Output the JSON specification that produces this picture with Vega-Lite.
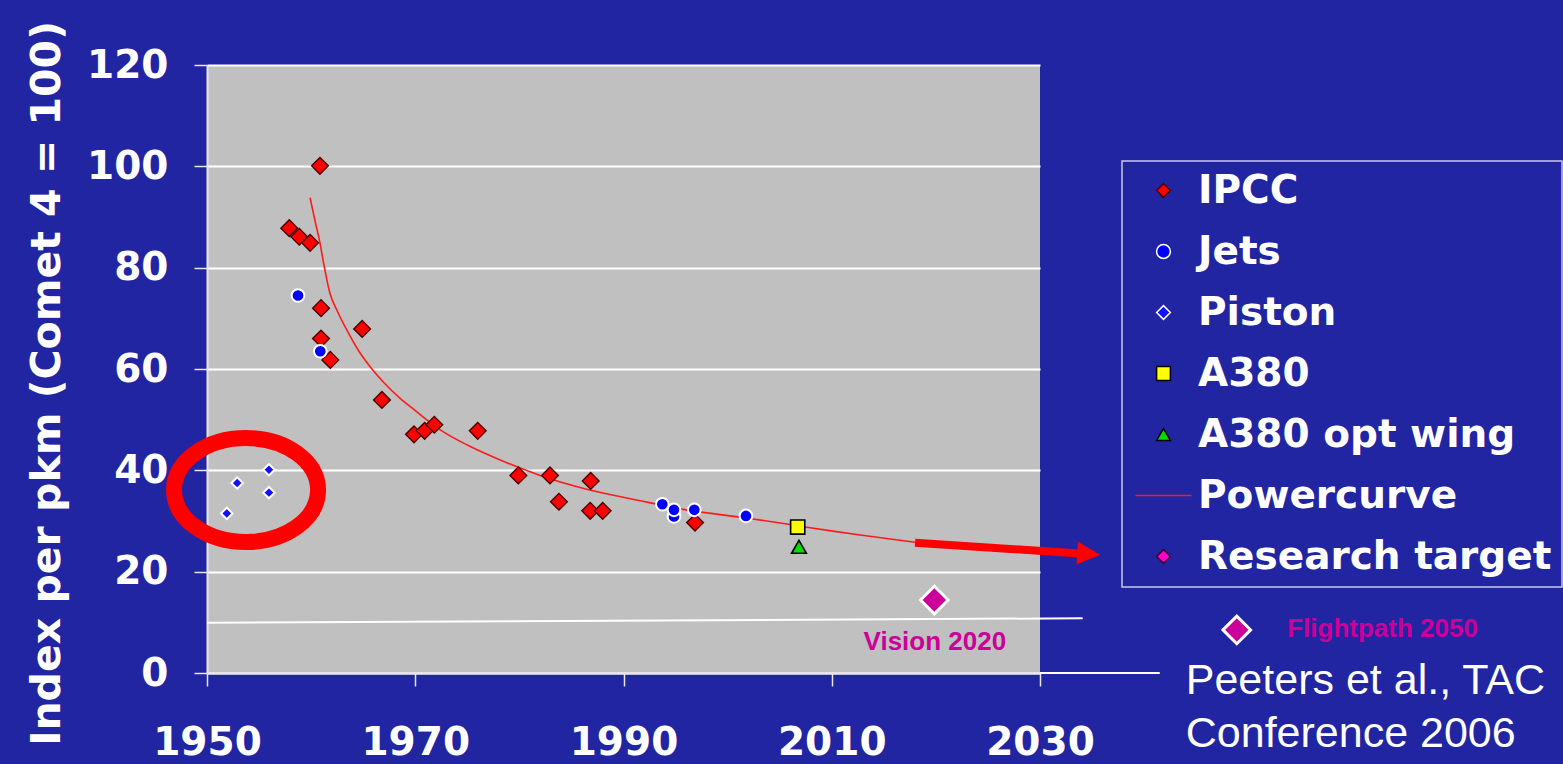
{
  "$schema": "https://vega.github.io/schema/vega-lite/v6.json",
  "width": 833,
  "height": 608,
  "autosize": {"type": "none"},
  "padding": {"left": 207, "top": 65, "right": 523, "bottom": 91},
  "background": "#2125a2",
  "config": {
    "view": {"fill": "#c0c0c0", "stroke": null},
    "font": "DejaVu Sans",
    "axis": {
      "labelColor": "white",
      "labelFont": "DejaVu Sans",
      "labelFontWeight": "bold",
      "labelFontSize": 39,
      "labelFlush": false,
      "labelOverlap": false,
      "tickColor": "#e8e8e8",
      "tickSize": 13,
      "tickWidth": 1.5,
      "domainColor": "#e8e8e8",
      "domainWidth": 2
    },
    "legend": {
      "labelFont": "DejaVu Sans",
      "labelFontWeight": "bold",
      "labelFontSize": 39,
      "labelColor": "white",
      "strokeColor": "#c8c8e8",
      "strokeWidth": 1.5,
      "padding": 10,
      "rowPadding": 21,
      "labelOffset": 15,
      "symbolOffset": 12,
      "symbolSize": 190,
      "symbolStrokeWidth": 1.5,
      "labelLimit": 600
    }
  },
  "datasets": {
    "points": [
      {"year": 1960.85, "value": 100.1, "series": "IPCC"},
      {"year": 1957.9, "value": 87.8, "series": "IPCC"},
      {"year": 1958.86, "value": 86.1, "series": "IPCC"},
      {"year": 1959.9, "value": 84.9, "series": "IPCC"},
      {"year": 1960.95, "value": 72.0, "series": "IPCC"},
      {"year": 1964.9, "value": 67.9, "series": "IPCC"},
      {"year": 1960.95, "value": 66.0, "series": "IPCC"},
      {"year": 1961.84, "value": 61.8, "series": "IPCC"},
      {"year": 1966.8, "value": 53.9, "series": "IPCC"},
      {"year": 1969.88, "value": 47.1, "series": "IPCC"},
      {"year": 1970.9, "value": 47.8, "series": "IPCC"},
      {"year": 1971.83, "value": 49.0, "series": "IPCC"},
      {"year": 1976.0, "value": 47.8, "series": "IPCC"},
      {"year": 1979.9, "value": 39.0, "series": "IPCC"},
      {"year": 1982.94, "value": 39.0, "series": "IPCC"},
      {"year": 1983.8, "value": 33.8, "series": "IPCC"},
      {"year": 1986.85, "value": 37.9, "series": "IPCC"},
      {"year": 1986.8, "value": 32.0, "series": "IPCC"},
      {"year": 1988.0, "value": 32.0, "series": "IPCC"},
      {"year": 1996.87, "value": 29.7, "series": "IPCC"},
      {"year": 1958.74, "value": 74.5, "series": "Jets"},
      {"year": 1960.88, "value": 63.5, "series": "Jets"},
      {"year": 1993.73, "value": 33.3, "series": "Jets"},
      {"year": 1994.85, "value": 30.9, "series": "Jets"},
      {"year": 1994.85, "value": 32.2, "series": "Jets"},
      {"year": 1996.8, "value": 32.2, "series": "Jets"},
      {"year": 2001.76, "value": 31.0, "series": "Jets"},
      {"year": 1955.95, "value": 40.1, "series": "Piston"},
      {"year": 1952.9, "value": 37.5, "series": "Piston"},
      {"year": 1955.95, "value": 35.6, "series": "Piston"},
      {"year": 1951.9, "value": 31.5, "series": "Piston"},
      {"year": 2006.73, "value": 28.8, "series": "A380"},
      {"year": 2006.85, "value": 24.9, "series": "A380 opt wing"},
      {"year": 2019.85, "value": 14.4, "series": "Research target"},
      {"year": 2048.9, "value": 8.5, "series": "Research target"}
    ],
    "curve": [
      {"year": 1959.9, "value": 93.8, "series": "Powercurve"},
      {"year": 1960.4, "value": 89.0, "series": "Powercurve"},
      {"year": 1960.85, "value": 84.9, "series": "Powercurve"},
      {"year": 1961.2, "value": 80.9, "series": "Powercurve"},
      {"year": 1961.8, "value": 75.0, "series": "Powercurve"},
      {"year": 1962.5, "value": 71.5, "series": "Powercurve"},
      {"year": 1963.4, "value": 67.8, "series": "Powercurve"},
      {"year": 1964.5, "value": 63.8, "series": "Powercurve"},
      {"year": 1965.65, "value": 60.5, "series": "Powercurve"},
      {"year": 1967.0, "value": 57.3, "series": "Powercurve"},
      {"year": 1968.5, "value": 54.3, "series": "Powercurve"},
      {"year": 1970.0, "value": 51.8, "series": "Powercurve"},
      {"year": 1972.4, "value": 48.0, "series": "Powercurve"},
      {"year": 1975.0, "value": 45.0, "series": "Powercurve"},
      {"year": 1978.1, "value": 42.1, "series": "Powercurve"},
      {"year": 1982.0, "value": 39.0, "series": "Powercurve"},
      {"year": 1986.0, "value": 36.5, "series": "Powercurve"},
      {"year": 1991.6, "value": 34.0, "series": "Powercurve"},
      {"year": 1996.0, "value": 32.2, "series": "Powercurve"},
      {"year": 2001.8, "value": 30.6, "series": "Powercurve"},
      {"year": 2006.0, "value": 29.3, "series": "Powercurve"},
      {"year": 2010.1, "value": 28.0, "series": "Powercurve"},
      {"year": 2014.0, "value": 26.9, "series": "Powercurve"},
      {"year": 2018.0, "value": 25.8, "series": "Powercurve"}
    ],
    "guide": [
      {"year": 1950, "value": 9.9, "g": "a"},
      {"year": 2034.1, "value": 10.8, "g": "a"},
      {"year": 2030, "value": 0, "g": "b"},
      {"year": 2041.5, "value": 0, "g": "b"}
    ],
    "ellipse": [{"year": 1953.75, "value": 36.1}],
    "arrow": [{"year": 2018.0, "value": 25.7, "year2": 2033.86, "value2": 23.6}],
    "arrowhead": [{"year": 2034.68, "value": 23.5}],
    "pinkText": [
      {"label": "Vision 2020", "year": 2019.9, "value": 4.5},
      {"label": "Flightpath 2050", "year": 2062.9, "value": 7.1}
    ],
    "whiteText": [
      {"label": "Peeters et al., TAC", "year": 2044.0, "value": -4.2},
      {"label": "Conference 2006", "year": 2044.0, "value": -14.6}
    ]
  },
  "layer": [
    {
      "data": {"name": "guide"},
      "mark": {"type": "line", "color": "white", "strokeWidth": 2},
      "encoding": {
        "x": {
          "field": "year", "type": "quantitative",
          "scale": {"domain": [1950, 2030], "nice": false, "zero": false},
          "axis": {"values": [1950, 1970, 1990, 2010, 2030], "format": "d", "title": null, "grid": false, "labelPadding": 37}
        },
        "y": {
          "field": "value", "type": "quantitative",
          "scale": {"domain": [0, 120], "nice": false},
          "axis": {
            "values": [0, 20, 40, 60, 80, 100, 120],
            "grid": true, "gridColor": "white", "gridWidth": 2,
            "title": "Index per pkm (Comet 4 = 100)",
            "titleColor": "white", "titleFontSize": 41, "titleFontWeight": "bold", "titleFont": "DejaVu Sans",
            "labelPadding": 26, "titlePadding": 18, "titleY": 318
          }
        },
        "detail": {"field": "g", "type": "nominal"}
      }
    },
    {
      "data": {"name": "curve"},
      "mark": {"type": "line", "strokeWidth": 1.6, "interpolate": "monotone"},
      "encoding": {
        "x": {"field": "year", "type": "quantitative"},
        "y": {"field": "value", "type": "quantitative"},
        "stroke": {
          "field": "series", "type": "nominal",
          "scale": {
            "domain": ["IPCC", "Jets", "Piston", "A380", "A380 opt wing", "Powercurve", "Research target"],
            "range": ["#4a0000", "#ffffff", "#ffffff", "#000000", "#000000", "#ff1a1a", "#3a0030"]
          },
          "legend": {"title": null, "orient": "none", "legendX": 915, "legendY": 96,
            "encode": {"symbols": {"update": {"size": {"signal": "datum.value === 'Powercurve' ? 3136 : 190"}}}}}
        }
      }
    },
    {
      "data": {"name": "points"},
      "mark": {"type": "point", "filled": true, "opacity": 1},
      "encoding": {
        "x": {"field": "year", "type": "quantitative"},
        "y": {"field": "value", "type": "quantitative"},
        "shape": {
          "field": "series", "type": "nominal",
          "scale": {
            "domain": ["IPCC", "Jets", "Piston", "A380", "A380 opt wing", "Powercurve", "Research target"],
            "range": ["diamond", "circle", "diamond", "square", "triangle-up", "stroke", "diamond"]
          },
          "legend": {"title": null, "orient": "none", "legendX": 915, "legendY": 96,
            "encode": {"symbols": {"update": {"size": {"signal": "datum.value === 'Powercurve' ? 3136 : 190"}}}}}
        },
        "fill": {
          "field": "series", "type": "nominal",
          "scale": {
            "domain": ["IPCC", "Jets", "Piston", "A380", "A380 opt wing", "Powercurve", "Research target"],
            "range": ["#ff0000", "#0000ff", "#1010ff", "#ffff00", "#00dd00", "#ff1a1a", "#ff00cc"]
          },
          "legend": {"title": null, "orient": "none", "legendX": 915, "legendY": 96,
            "encode": {"symbols": {"update": {"size": {"signal": "datum.value === 'Powercurve' ? 3136 : 190"}}}}}
        },
        "stroke": {
          "field": "series", "type": "nominal",
          "scale": {
            "domain": ["IPCC", "Jets", "Piston", "A380", "A380 opt wing", "Powercurve", "Research target"],
            "range": ["#4a0000", "#ffffff", "#ffffff", "#000000", "#000000", "#ff1a1a", "#3a0030"]
          },
          "legend": {"title": null, "orient": "none", "legendX": 915, "legendY": 96,
            "encode": {"symbols": {"update": {"size": {"signal": "datum.value === 'Powercurve' ? 3136 : 190"}}}}}
        },
        "size": {
          "condition": [
            {"test": "datum.series === 'IPCC'", "value": 280},
            {"test": "datum.series === 'Jets'", "value": 160},
            {"test": "datum.series === 'Piston'", "value": 130},
            {"test": "datum.series === 'A380'", "value": 200},
            {"test": "datum.series === 'A380 opt wing'", "value": 220}
          ],
          "value": 760
        },
        "strokeWidth": {
          "condition": [
            {"test": "datum.series === 'IPCC'", "value": 1.4},
            {"test": "datum.series === 'Jets'", "value": 2},
            {"test": "datum.series === 'Piston'", "value": 2}
          ],
          "value": 1.6
        }
      }
    },
    {
      "data": {"name": "points"},
      "transform": [{"filter": "datum.series === 'Research target'"}],
      "mark": {"type": "point", "shape": "diamond", "size": 760, "filled": true, "fill": "#cc0099", "stroke": "white", "strokeWidth": 3, "opacity": 1},
      "encoding": {
        "x": {"field": "year", "type": "quantitative"},
        "y": {"field": "value", "type": "quantitative"}
      }
    },
    {
      "data": {"name": "ellipse"},
      "mark": {
        "type": "point",
        "shape": "M -1 0 C -1 -0.399 -0.552 -0.722 0 -0.722 C 0.552 -0.722 1 -0.399 1 0 C 1 0.399 0.552 0.722 0 0.722 C -0.552 0.722 -1 0.399 -1 0 Z",
        "size": 20736, "filled": false, "color": "#ff0000", "strokeWidth": 16, "opacity": 1
      },
      "encoding": {
        "x": {"field": "year", "type": "quantitative"},
        "y": {"field": "value", "type": "quantitative"}
      }
    },
    {
      "data": {"name": "arrow"},
      "mark": {"type": "rule", "color": "#ff0000", "strokeWidth": 8},
      "encoding": {
        "x": {"field": "year", "type": "quantitative"},
        "y": {"field": "value", "type": "quantitative"},
        "x2": {"field": "year2"},
        "y2": {"field": "value2"}
      }
    },
    {
      "data": {"name": "arrowhead"},
      "mark": {"type": "point", "shape": "M -1 -1 L 1 0 L -1 1 Z", "size": 529, "filled": true, "color": "#ff0000", "opacity": 1, "angle": 4},
      "encoding": {
        "x": {"field": "year", "type": "quantitative"},
        "y": {"field": "value", "type": "quantitative"}
      }
    },
    {
      "data": {"name": "pinkText"},
      "mark": {"type": "text", "font": "Liberation Sans", "fontWeight": "bold", "fontSize": 26, "color": "#cc0099", "align": "center", "baseline": "alphabetic"},
      "encoding": {
        "x": {"field": "year", "type": "quantitative"},
        "y": {"field": "value", "type": "quantitative"},
        "text": {"field": "label"}
      }
    },
    {
      "data": {"name": "whiteText"},
      "mark": {"type": "text", "font": "Liberation Sans", "fontSize": 43, "color": "white", "align": "left", "baseline": "alphabetic"},
      "encoding": {
        "x": {"field": "year", "type": "quantitative"},
        "y": {"field": "value", "type": "quantitative"},
        "text": {"field": "label"}
      }
    }
  ]
}
